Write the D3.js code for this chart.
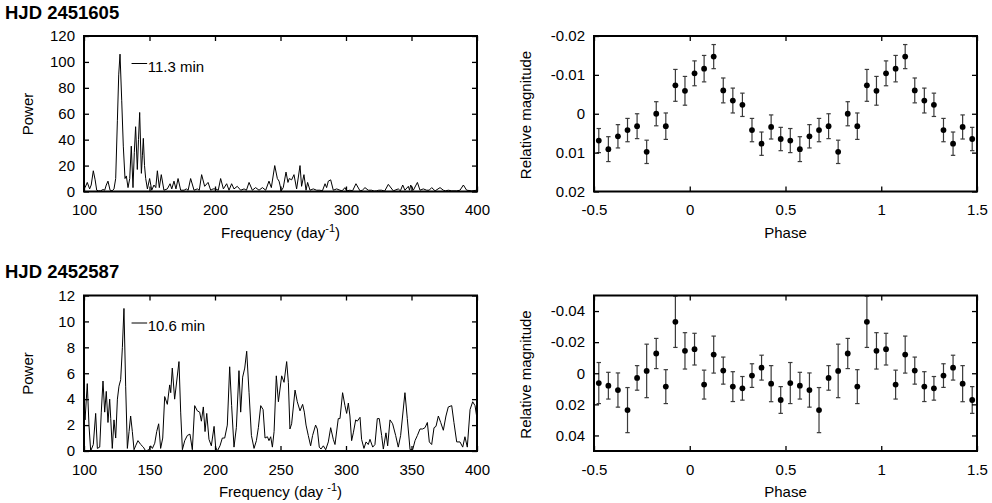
<!DOCTYPE html>
<html>
<head>
<meta charset="utf-8">
<script src="https://cdnjs.cloudflare.com/ajax/libs/d3/7.8.5/d3.min.js"></script>
<style>
    body { margin: 0; background: #fff; }
    svg { display: block; font-family: "Liberation Sans", Arial, sans-serif; }
</style>
</head>
<body>
<svg id="chart" width="992" height="503"></svg>
<script>
// tick values
const freqTicks = [ 100, 150, 200, 250, 300, 350, 400 ];
const powerTicksA = [ 0, 20, 40, 60, 80, 100, 120 ];
const powerTicksB = [ 0, 2, 4, 6, 8, 10, 12 ];
const phaseTicks = [ -0.5, 0, 0.5, 1, 1.5 ];
const magTicksA = [ -0.02, -0.01, 0, 0.01, 0.02 ];
const magTicksB = [ -0.04, -0.02, 0, 0.02, 0.04 ];

// power spectrum, HJD 2451605  [frequency, power]
const spectrumA = [
    [100,3],[100.8,3],[102.5,7],[104.3,2],[105.5,5],[107.1,16],[108.5,9],[109.7,1],[111,0.5],[112.7,0.5],
    [114.5,1.5],[115.8,1],[117,5],[118.3,8],[119.9,1],[121.5,0.5],[122.9,2],[124.2,10],[125.5,55],[126.5,90],
    [127.5,106],[128.8,70],[130,35],[131.3,10],[132.3,12],[133.6,3],[134.9,10],[136.1,35],[137.4,3],[138.4,30],
    [139.4,50],[140.7,17],[141.6,40],[142.5,61],[143.8,14],[144.6,28],[145.3,41],[146.2,20],[147.1,10],[148.4,2],
    [150.1,10],[151.7,1],[153.4,5],[154.8,3],[156,16],[157.5,3],[159,13],[161,1],[163.6,2],[165.7,6],
    [167,2],[168.7,8],[170.2,2],[171.8,10],[173.8,1],[176.4,1],[178.1,2],[179.5,1],[181.4,10],[184,1],
    [186.5,2],[188,1],[189.8,13],[192.1,4],[194.7,7],[196.7,1],[198.5,2],[200.5,2],[202.5,1],[204.3,10],
    [206.4,2],[208.9,6],[210.7,1],[212.7,6],[214.5,2],[217,4],[219.6,1],[222.2,2],[224,1],[226,7],
    [228.5,1],[231,3],[233.6,1],[236.2,3],[238.7,1],[241.2,8],[243,3],[245.6,20],[247.6,10],[248.9,8],
    [249.6,5],[250.5,0.5],[252.1,3],[254.2,15],[255.7,7],[256.7,10],[258.5,9],[260.3,13],[262.3,2],[264.9,20],
    [266.1,4],[267.9,13],[269.5,1],[270.7,7],[272.5,1],[275,2],[277.6,1],[280.1,1],[282,0.5],[284,6],
    [285.2,3],[286.5,8],[288.3,9],[290.3,1],[292.9,2],[295.4,1],[297,0.5],[299.2,3],[300.5,0.5],[303,1],
    [305,0.5],[307.6,6],[310.7,0.5],[312.5,1],[314.5,3],[317,1],[319.6,1],[321.5,0.3],[323.4,0.5],[325,1],
    [327.2,1],[329.5,0.3],[332.3,5.5],[336.1,0.5],[339.9,2],[341.5,0.5],[343.3,5],[345,1],[347.6,4],[348.5,1],
    [349.4,5],[351.4,1],[354.5,7],[356.5,1],[359,2],[361.6,1],[363.5,1],[365.4,3],[368,0.5],[371.8,3],
    [374.3,1],[376,0.5],[378.1,1],[380.7,0.5],[384.5,0.5],[387,1],[389.6,5],[392.1,1],[396,0.5],[400,1]
];

// power spectrum, HJD 2452587  [frequency, power]
const spectrumB = [
    [100,3.5],[100.8,2.4],[102.5,5.2],[103.8,2],[105.1,0],[107.1,0.5],[108.9,2.9],[110.2,0.2],[112,0.3],[113.2,3],
    [114.5,5.4],[115.8,3],[117,4.6],[118.3,2.2],[119.6,4],[120.4,2.5],[121.6,0.2],[122.9,2.4],[124.2,1],[125.5,4],
    [126.7,5],[128,5.5],[129.3,8],[130.5,11],[131.8,5],[133.1,0.2],[134.4,1.5],[135.6,2.7],[136.9,1.5],[138.2,0.1],
    [139.4,0.4],[141.2,0.8],[143.3,0.5],[145.3,0.3],[147.1,0],[149.6,0.1],[150.9,0.4],[152.2,0.2],[154,0.6],[155.5,1.5],
    [157,2.1],[158.5,0.2],[160.1,1],[161.6,4.2],[163.6,3.6],[165.4,5.1],[166.2,4.5],[167.4,6.4],[169.2,4],[172.5,6.9],
    [173.8,3],[175.1,0.1],[176.9,0.8],[178.9,1.2],[180.9,1.3],[182.7,0.1],[184.5,3.5],[186.5,3.1],[188.3,3],[189.6,2.3],
    [191.1,3.4],[192.4,1.5],[193.7,2.9],[195.4,0.9],[197.2,0.4],[199.3,1.9],[200.5,0.3],[201.8,0],[203.8,0.4],[205.6,1],
    [207.4,1],[209.4,2],[211.2,6.5],[212.7,3.5],[214.5,0.3],[216.3,1.8],[218.3,6.2],[219.6,3],[221.1,5.7],[222.7,6.4],
    [224.2,7.7],[226,4.5],[227.8,1.2],[229.8,0.2],[231.6,0.8],[233.1,1.8],[234.9,3.5],[236.7,3.2],[238.2,1],[240,1.1],
    [241.2,0.8],[242.5,1.1],[243.8,0.3],[245.1,1.5],[246.8,5.8],[248.4,3.8],[250.9,5.8],[252.7,5.3],[254.7,6.9],[256,5.3],
    [257.2,1.7],[258.5,2.1],[261.1,4.7],[262.8,3.8],[264.9,3.1],[266.9,3.6],[268.2,3],[269.5,2],[271.2,1.2],[273,0.4],
    [274.5,1.2],[276.8,2],[278.1,1.7],[279.6,0.3],[280.9,0.15],[282.7,0.4],[284.5,0.1],[286.5,0.7],[288.3,1.8],[290.3,0.9],
    [291.6,0.5],[294.1,2.5],[295.4,2.5],[297.4,4.5],[299.2,3.5],[300.5,2.9],[301.8,3.7],[303,2.7],[304.3,0.8],[305.6,1.4],
    [307.4,2.4],[308.6,2.3],[310.7,2.6],[311.9,0.9],[313.7,0.2],[315.3,0.7],[317,0.5],[318.3,0.9],[320.4,0.3],[322.1,0.5],
    [323.9,2.5],[325.4,2.5],[327.2,1.2],[328.5,0.15],[330.5,1.4],[331.8,0.4],[333.6,2.4],[335.6,2.1],[337.9,1.2],[339.9,0.3],
    [341.7,1.2],[345,4.5],[346.8,2.5],[348.9,0.1],[350.9,0.1],[352.7,0.8],[354.5,1.2],[356.5,1.7],[358.5,1.7],[360.3,1.8],
    [362.1,2.2],[363.6,0.7],[365.4,0.5],[367.2,1.8],[368.7,1.9],[370.5,2.7],[372.3,2.2],[374.3,1.6],[376.3,2.7],[378.1,3.4],
    [380.7,3.5],[382.4,2.2],[384.5,0.7],[387,0.7],[389.1,0.3],[390.8,1.1],[392.6,0.3],[394.7,3.2],[396.7,3.8],[398.5,3.5],
    [400,2.5]
];

// folded light curves: bin centre phase, magnitude, error
const phaseBins = [ -0.475, -0.425, -0.375, -0.325, -0.275, -0.225, -0.175, -0.125, -0.075, -0.025,
                    0.025, 0.075, 0.125, 0.175, 0.225, 0.275, 0.325, 0.375, 0.425, 0.475 ];
const magA = [ 0.0069, 0.0091, 0.0058, 0.0042, 0.0032, 0.0098, 0.0000, 0.0032, -0.0073, -0.0059,
               -0.0104, -0.0116, -0.0147, -0.0060, -0.0034, -0.0023, 0.0042, 0.0077, 0.0034, 0.0065 ];
const errA = [ 0.0031, 0.0032, 0.0030, 0.0030, 0.0032, 0.0030, 0.0031, 0.0034, 0.0041, 0.0037,
               0.0032, 0.0034, 0.0031, 0.0032, 0.0032, 0.0030, 0.0030, 0.0030, 0.0031, 0.0030 ];
const magB = [ 0.0063, 0.0080, 0.0108, 0.0237, 0.0030, -0.0015, -0.0127, 0.0086, -0.0331, -0.0144,
               -0.0155, 0.0073, -0.0120, -0.0017, 0.0086, 0.0097, 0.0015, -0.0036, 0.0067, 0.0172 ];
const errB = [ 0.0132, 0.0086, 0.0110, 0.0145, 0.0079, 0.0172, 0.0097, 0.0109, 0.0165, 0.0117,
               0.0102, 0.0093, 0.0119, 0.0087, 0.0096, 0.0076, 0.0076, 0.0080, 0.0116, 0.0086 ];

const titles = [ 'HJD 2451605', 'HJD 2452587' ];
const periods = [ '11.3 min', '10.6 min' ];

const FONT = 15;
const svg = d3.select( '#chart' );
const fmt = d => String( d );

// frame with inward ticks on all four sides
function drawFrame( g, x, y, xTicks, yTicks ) {
    const [ x0, x1 ] = x.range();
    const [ yb, yt ] = y.range();

    const style = sel => {
        sel.select( '.domain' ).remove();
        sel.attr( 'font-size', FONT ).attr( 'font-family', null );
        sel.selectAll( '.tick line' ).attr( 'stroke-width', 1.3 );
    };

    g.append( 'g' ).attr( 'transform', `translate(0, ${ yb })` )
        .call( d3.axisBottom( x ).tickValues( xTicks ).tickSize( -5 ).tickPadding( 13 ).tickFormat( fmt ) )
        .call( style );
    g.append( 'g' ).attr( 'transform', `translate(0, ${ yt })` )
        .call( d3.axisTop( x ).tickValues( xTicks ).tickSize( -5 ).tickFormat( '' ) )
        .call( style );
    g.append( 'g' ).attr( 'transform', `translate(${ x0 }, 0)` )
        .call( d3.axisLeft( y ).tickValues( yTicks ).tickSize( -5 ).tickPadding( 9 ).tickFormat( fmt ) )
        .call( style );
    g.append( 'g' ).attr( 'transform', `translate(${ x1 }, 0)` )
        .call( d3.axisRight( y ).tickValues( yTicks ).tickSize( -5 ).tickFormat( '' ) )
        .call( style );

    g.append( 'rect' )
        .attr( 'x', x0 ).attr( 'y', yt )
        .attr( 'width', x1 - x0 ).attr( 'height', yb - yt )
        .attr( 'fill', 'none' ).attr( 'stroke', '#000' ).attr( 'stroke-width', 2 );
}

function drawSpectrum( top, data, yMax, yTicks, period, xLabelGap ) {
    const g = svg.append( 'g' );
    const x = d3.scaleLinear().domain( [ 100, 400 ] ).range( [ 84, 477 ] );
    const y = d3.scaleLinear().domain( [ 0, yMax ] ).range( [ top + 155.5, top ] );

    g.append( 'path' )
        .datum( data )
        .attr( 'fill', 'none' )
        .attr( 'stroke', '#000' )
        .attr( 'stroke-width', 1 )
        .attr( 'stroke-linejoin', 'round' )
        .attr( 'd', d3.line().x( d => x( d[ 0 ] ) ).y( d => y( d[ 1 ] ) ) );

    drawFrame( g, x, y, freqTicks, yTicks );

    // period label next to the main peak
    const ly = top + 27.5;
    g.append( 'line' )
        .attr( 'x1', x( 136.3 ) ).attr( 'x2', x( 148.2 ) )
        .attr( 'y1', ly ).attr( 'y2', ly )
        .attr( 'stroke', '#000' ).attr( 'stroke-width', 1 );
    g.append( 'text' )
        .attr( 'x', x( 148.6 ) ).attr( 'y', ly + 8.3 )
        .attr( 'font-size', FONT )
        .text( period );

    const xl = g.append( 'text' )
        .attr( 'x', 280.5 ).attr( 'y', top + 201.5 )
        .attr( 'text-anchor', 'middle' )
        .attr( 'font-size', FONT )
        .text( 'Frequency (day' + xLabelGap );
    xl.append( 'tspan' ).attr( 'font-size', 11 ).attr( 'dy', -6 ).text( '-1' );
    xl.append( 'tspan' ).attr( 'dy', 6 ).text( ')' );

    g.append( 'text' )
        .attr( 'transform', `translate(33, ${ top + 78 }) rotate(-90)` )
        .attr( 'text-anchor', 'middle' )
        .attr( 'font-size', FONT )
        .text( 'Power' );
}

function drawLightCurve( top, mags, errs, yLim, yTicks ) {
    const g = svg.append( 'g' );
    const x = d3.scaleLinear().domain( [ -0.5, 1.5 ] ).range( [ 594, 977 ] );
    const y = d3.scaleLinear().domain( [ yLim, -yLim ] ).range( [ top + 155.5, top ] );

    // two cycles of the folded curve
    const pts = [];
    [ 0, 1 ].forEach( c => {
        phaseBins.forEach( ( p, i ) => pts.push( { phase: p + c, mag: mags[ i ], err: errs[ i ] } ) );
    } );

    const bars = g.selectAll( '.bar' )
        .data( pts )
        .enter()
        .append( 'g' )
        .attr( 'class', 'bar' )
        .attr( 'stroke', '#3a3a3a' )
        .attr( 'stroke-width', 1.2 );

    bars.append( 'line' )
        .attr( 'x1', d => x( d.phase ) ).attr( 'x2', d => x( d.phase ) )
        .attr( 'y1', d => y( d.mag - d.err ) ).attr( 'y2', d => y( d.mag + d.err ) );
    [ -1, 1 ].forEach( s => {
        bars.append( 'line' )
            .attr( 'x1', d => x( d.phase ) - 2.2 ).attr( 'x2', d => x( d.phase ) + 2.2 )
            .attr( 'y1', d => y( d.mag + s * d.err ) ).attr( 'y2', d => y( d.mag + s * d.err ) );
    } );

    g.selectAll( '.dot' )
        .data( pts )
        .enter()
        .append( 'circle' )
        .attr( 'class', 'dot' )
        .attr( 'cx', d => x( d.phase ) )
        .attr( 'cy', d => y( d.mag ) )
        .attr( 'r', 2.9 )
        .attr( 'fill', '#000' );

    drawFrame( g, x, y, phaseTicks, yTicks );

    g.append( 'text' )
        .attr( 'x', 785.5 ).attr( 'y', top + 201.5 )
        .attr( 'text-anchor', 'middle' )
        .attr( 'font-size', FONT )
        .text( 'Phase' );

    g.append( 'text' )
        .attr( 'transform', `translate(531, ${ top + 79 }) rotate(-90)` )
        .attr( 'text-anchor', 'middle' )
        .attr( 'font-size', FONT )
        .text( 'Relative magnitude' );
}

// row titles
svg.append( 'text' ).attr( 'x', 5 ).attr( 'y', 19 )
    .attr( 'font-size', 18.5 ).attr( 'font-weight', 'bold' ).text( titles[ 0 ] );
svg.append( 'text' ).attr( 'x', 5 ).attr( 'y', 278 )
    .attr( 'font-size', 18.5 ).attr( 'font-weight', 'bold' ).text( titles[ 1 ] );

drawSpectrum( 36, spectrumA, 120, powerTicksA, periods[ 0 ], '' );
drawSpectrum( 295.5, spectrumB, 12, powerTicksB, periods[ 1 ], ' ' );
drawLightCurve( 36, magA, errA, 0.02, magTicksA );
drawLightCurve( 295.5, magB, errB, 0.05, magTicksB );
</script>
</body>
</html>
